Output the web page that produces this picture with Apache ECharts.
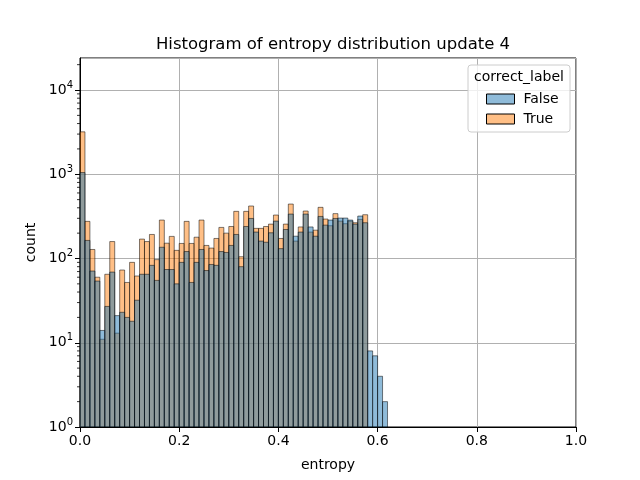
<!DOCTYPE html>
<html>
<head>
<meta charset="utf-8">
<script src="https://cdn.jsdelivr.net/npm/echarts@6/dist/echarts.min.js"></script>
<style>html,body{margin:0;padding:0;background:#fff}#c{width:640px;height:480px}</style>
</head>
<body>
<div id="c"></div>
<script>
// bin edges: 62 bins of width 0.01 starting at 0
var binStart = 0.0;
var binWidth = 0.01;
var countFalse = [1048,164,71,54,14,27,69,21,23,20,18,32,65,65,83,55,136,74,74,50,90,121,52,90,128,72,85,83,121,118,143,193,80,240,299,206,161,156,202,278,131,221,337,184,206,337,237,184,316,249,286,299,302,302,286,256,319,266,8,7,4,2];
var countTrue  = [3190,276,128,60,11,65,159,13,73,52,90,62,170,159,193,97,286,152,183,125,151,276,151,179,286,143,133,173,234,200,240,363,105,363,420,228,228,240,256,328,173,256,443,161,237,366,206,217,405,294,245,341,278,259,278,266,291,331,0,0,0,0];
var xTicks = [0, 0.2, 0.4, 0.6, 0.8, 1.0];
var yDecades = [1, 10, 100, 1000, 10000];

function toBins(counts){
  var out = [];
  for (var i = 0; i < counts.length; i++){
    if (counts[i] > 0) out.push([binStart + i*binWidth, binStart + (i+1)*binWidth, counts[i]]);
  }
  return out;
}
var minorVals = [];
yDecades.forEach(function(d){ for (var k=2;k<=9;k++){ if (d*k < 24000) minorVals.push([0, d*k]); } });

function barRender(fill){
  return function(params, api){
    var p0 = api.coord([api.value(0), api.value(2)]);
    var p1 = api.coord([api.value(1), 1]);
    return {type:'rect', shape:{x:p0[0], y:p0[1], width:p1[0]-p0[0], height:p1[1]-p0[1]},
      style:{fill:fill, stroke:'rgba(0,0,0,0.5)', lineWidth:1}};
  };
}
var FONT = 'DejaVu Sans';
var chart = echarts.init(document.getElementById('c'));
chart.setOption({
  animation:false,
  textStyle:{fontFamily:FONT},
  title:{text:'Histogram of entropy distribution update 4', left:328, textAlign:'center', top:31,
    textStyle:{fontFamily:FONT, fontSize:16.5, fontWeight:'normal', color:'#000'}},
  grid:{left:80, right:64, top:58, bottom:53, show:true, borderColor:'#000', borderWidth:1, backgroundColor:'transparent'},
  xAxis:{type:'value', min:0, max:1, interval:0.2,
    name:'entropy', nameLocation:'middle', nameGap:31, nameTextStyle:{fontSize:14, color:'#000', fontFamily:FONT},
    axisLine:{lineStyle:{color:'#000'}},
    axisTick:{show:true, length:5, lineStyle:{color:'#000'}},
    axisLabel:{fontSize:14, color:'#000', margin:7, formatter:function(v){return v.toFixed(1);}},
    splitLine:{show:true, lineStyle:{color:'#b0b0b0', width:1}}},
  yAxis:{type:'log', logBase:10, min:1, max:24000,
    name:'count', nameLocation:'middle', nameGap:41, nameTextStyle:{fontSize:14, color:'#000', fontFamily:FONT},
    axisLine:{show:true, lineStyle:{color:'#000'}},
    axisTick:{show:true, length:5, lineStyle:{color:'#000'}},
    axisLabel:{color:'#000', margin:7, showMaxLabel:false,
      formatter:function(v){ var e=Math.round(Math.log10(v)); if (Math.abs(Math.log10(v)-e)>1e-6) return ''; return '{b|10}{s|'+e+'}'; },
      rich:{b:{fontSize:14, color:'#000', fontFamily:FONT}, s:{fontSize:10, color:'#000', fontFamily:FONT, verticalAlign:'bottom', padding:[0,0,10,0]}}},
    splitLine:{show:true, lineStyle:{color:'#b0b0b0', width:1}}},
  legend:{orient:'vertical', left:481, top:87, itemWidth:28, itemHeight:10, itemGap:6,
    icon:'rect', z:10,
    textStyle:{fontSize:14, color:'#000', fontFamily:FONT, padding:[0,0,0,4]},
    data:[{name:'False', itemStyle:{color:'rgba(31,119,180,0.5)', borderColor:'#000', borderWidth:1}},
          {name:'True', itemStyle:{color:'rgba(255,127,14,0.5)', borderColor:'#000', borderWidth:1}}]},
  graphic:[
    {type:'rect', z:5, shape:{x:468, y:65, width:102, height:67, r:3}, style:{fill:'rgba(255,255,255,0.8)', stroke:'#cccccc', lineWidth:1}},
    {type:'text', z:6, x:519, y:77, style:{text:'correct_label', fontSize:14, fontFamily:FONT, fill:'#000', textAlign:'center', textVerticalAlign:'middle'}}
  ],
  series:[
    {name:'True', type:'custom', renderItem:barRender('rgba(255,127,14,0.5)'), encode:{x:[0,1], y:2}, data:toBins(countTrue), z:2,
      itemStyle:{color:'rgba(255,127,14,0.5)'}},
    {name:'False', type:'custom', renderItem:barRender('rgba(31,119,180,0.5)'), encode:{x:[0,1], y:2}, data:toBins(countFalse), z:3,
      itemStyle:{color:'rgba(31,119,180,0.5)'}},
    {name:'minor', type:'custom', clip:false, silent:true, z:4, encode:{x:0, y:1}, data:minorVals,
      renderItem:function(params, api){ var p=api.coord([0, api.value(1)]);
        return {type:'line', shape:{x1:p[0]-3, y1:p[1], x2:p[0], y2:p[1]}, style:{stroke:'#000', lineWidth:0.8}}; }}
  ]
});
</script>
</body>
</html>
